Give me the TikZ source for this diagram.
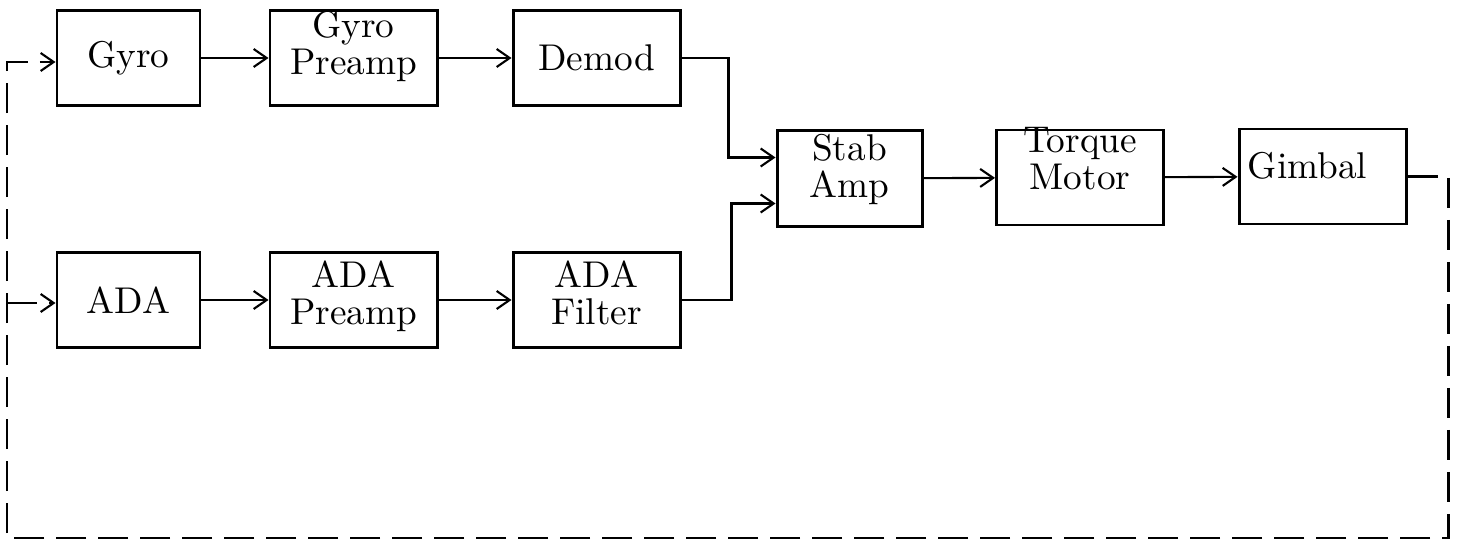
\documentclass[tikz,border=0pt]{standalone}
\usetikzlibrary{arrows.meta}
\tikzset{
  blk/.style={draw, line width=0.85pt, align=center, minimum height=0.95cm, inner sep=1pt, font=\fontsize{10.6}{10.6}\selectfont},
  sblk/.style={blk, minimum width=1.43cm},
  wblk/.style={blk, minimum width=1.67cm},
  sig/.style={-{Straight Barb[length=1.3mm, width=1.8mm, line width=0.6pt]}, line width=0.6pt},
  fb/.style={sig, line width=0.85pt, dash pattern=on 3mm off 1.2mm},
}
\begin{document}
\begin{tikzpicture}
    \useasboundingbox (0,0) rectangle (14.58,-5.43);
    \node[sblk] (gyro) at (1.285,-0.58) {Gyro};
    \node[wblk, text height=17.3pt, text depth=7.7pt] (gpre) at (3.535,-0.58) {Gyro\\Preamp};
    \node[wblk] (demod) at (5.965,-0.58) {Demod};
    \node[sblk] (ada) at (1.285,-3.00) {ADA};
    \node[wblk, text height=19.5pt, text depth=5.5pt] (apre) at (3.535,-3.00) {ADA\\Preamp};
    \node[wblk, text height=19.5pt, text depth=5.5pt] (afilt) at (5.965,-3.00) {ADA\\Filter};
    \node[sblk, minimum width=1.45cm, text height=18.1pt, text depth=7.4pt] (stab) at (8.495,-1.785) {Stab\\Amp};
    \node[wblk, text height=15.9pt, text depth=9.1pt] (torq) at (10.80,-1.775) {Torque\\Motor};
    \node[wblk, text height=13pt, text depth=12pt] (gimb) at (13.225,-1.765) {Gimbal\hspace*{0.3cm}};
    \coordinate (fbR) at (14.48,-5.38);
    \coordinate (fbL) at (0.07,-5.38);
    \coordinate (fbT) at (0.07,-0.62);
    \coordinate (fbA) at (0.07,-3.03);
    \draw[sig] (gyro) -- (gpre);
    \draw[sig] (gpre) -- (demod);
    \draw[sig] (ada) -- (apre);
    \draw[sig] (apre) -- (afilt);
    \draw[sig] (demod.east) -- ++(0.47,0) |- ([yshift=0.21cm]stab.west);
    \draw[sig] (afilt.east) -- ++(0.50,0) |- ([yshift=-0.25cm]stab.west);
    \draw[sig] (stab) -- (torq);
    \draw[sig] (torq) -- (gimb);
    \draw[fb] (gimb.east) -| (fbR) -- (fbL) -- (fbT) -- (gyro.west |- fbT);
    \draw[fb] (fbA) -- (ada.west |- fbA);
  \end{tikzpicture}
\end{document}
